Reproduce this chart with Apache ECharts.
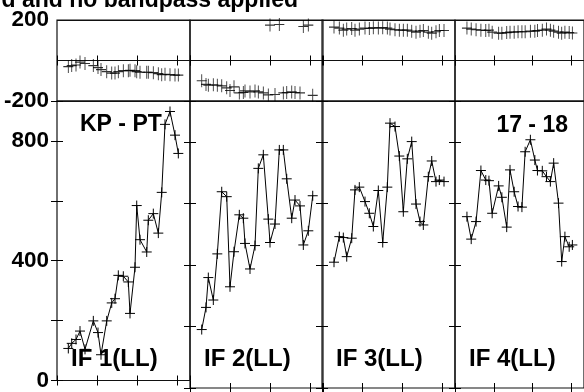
<!DOCTYPE html>
<html><head><meta charset="utf-8">
<script src="https://cdn.jsdelivr.net/npm/echarts@6/dist/echarts.min.js"></script>
<style>html,body{margin:0;padding:0;background:#fff;overflow:hidden}#c{width:584px;height:392px}</style>
</head><body><div id="c"></div>
<script>
// ---- text ----
const titleText = 'd and no bandpass applied';
const baselineLeft = 'KP - PT';
const baselineRight = '17 - 18';
const ifLabels = ['IF 1(LL)', 'IF 2(LL)', 'IF 3(LL)', 'IF 4(LL)'];

// ---- axis settings (values) ----
const phaseRange = [-200, 200];
const ampRange = [0, 933];
const timeRange = [0, 3.325];

// ---- IF 1 ----
const t1 = [0.283,0.368,0.475,0.575,0.700,0.908,1.025,1.100,1.243,1.368,1.450,1.533,1.658,1.783,1.825,1.950,1.993,2.075,2.243,2.283,2.408,2.533,2.618,2.700,2.825,2.950,3.033];
const amp1 = [107,124,137,165,104,199,160,86,199,259,273,351,348,329,224,378,584,470,429,535,557,492,628,855,898,819,758];
const ph1 = [-30,-25,-22,-8,-15,-25,-35,-45,-55,-62,-62,-55,-50,-50,-48,-50,-55,-58,-58,-58,-60,-65,-70,-68,-70,-72,-72];

// ---- IF 2 ----
const t2 = [0.293,0.400,0.458,0.583,0.683,0.793,0.918,1.000,1.100,1.233,1.333,1.375,1.500,1.625,1.708,1.833,1.958,2.000,2.125,2.233,2.333,2.418,2.543,2.625,2.750,2.833,2.958,3.068];
const amp2 = [190,262,359,286,436,638,622,329,443,563,552,470,387,463,714,758,549,473,533,774,774,680,552,611,592,465,511,625];
const ph2 = [-100,-118,-122,-120,-122,-125,-135,-148,-130,-160,-158,-150,-155,-150,-155,-160,-170,175,-168,178,-160,-158,-155,-158,-160,168,175,-172];

// ---- IF 3 ----
const t3 = [0.300,0.433,0.533,0.618,0.743,0.825,0.933,1.075,1.183,1.283,1.408,1.518,1.633,1.700,1.825,1.933,2.033,2.133,2.243,2.350,2.450,2.533,2.658,2.743,2.850,2.933,3.050];
const amp3 = [409,492,489,427,487,644,653,606,568,525,642,473,653,861,850,754,573,745,801,598,541,530,687,738,671,676,671];
const ph3 = [165,160,150,155,158,150,155,160,158,162,160,162,160,155,152,150,150,150,145,140,145,148,140,135,142,148,148];

// ---- IF 4 ----
const t4 = [0.308,0.418,0.543,0.668,0.793,0.875,0.958,1.125,1.208,1.333,1.418,1.525,1.625,1.725,1.808,1.943,2.058,2.125,2.250,2.358,2.458,2.543,2.668,2.750,2.833,2.943,3.025];
const amp4 = [557,484,541,707,676,674,568,657,620,523,709,638,590,588,768,807,741,707,706,687,671,731,601,411,492,459,465];
const ph4 = [160,155,152,150,148,150,140,135,135,138,140,140,142,142,142,145,145,148,150,155,150,145,140,135,140,138,136];

const T = [t1, t2, t3, t4];
const AMP = [amp1, amp2, amp3, amp4];
const PH = [ph1, ph2, ph3, ph4];

// ---- layout ----
const colLeft = [57, 190, 322, 455];
const colW = 133;
const phTop = 20, phH = 81, amTop = 101, amH = 287;
const FONT = 'Liberation Sans, Arial, Helvetica, sans-serif';
const plusPath = 'path://M5,0L5,10M0,5L10,5';

const grids = [], xAxes = [], yAxes = [], series = [];
const tickStyle = { lineStyle: { color: '#000', width: 1 } };

for (let r = 0; r < 2; r++) {
  for (let c = 0; c < 4; c++) {
    const g = r * 4 + c;
    grids.push({ left: colLeft[c], width: colW, top: r === 0 ? phTop : amTop, height: r === 0 ? phH : amH,
      show: true, borderColor: '#111', borderWidth: 1.2, backgroundColor: 'transparent', containLabel: false });
    ['bottom', 'top'].forEach(pos => xAxes.push({
      type: 'value', gridIndex: g, position: pos, min: timeRange[0], max: timeRange[1], interval: 1,
      axisLine: { show: false }, axisLabel: { show: false }, splitLine: { show: false },
      axisTick: Object.assign({ show: true, inside: true, length: 5 }, tickStyle)
    }));
    const isPh = r === 0;
    ['left', 'right'].forEach(pos => yAxes.push({
      type: 'value', gridIndex: g, position: pos,
      min: isPh ? phaseRange[0] : ampRange[0], max: isPh ? phaseRange[1] : ampRange[1], interval: 200,
      axisLine: { show: false },
      axisTick: Object.assign({ show: !isPh, inside: true, length: 6 }, tickStyle),
      splitLine: { show: isPh && pos === 'left', lineStyle: { color: '#111', width: 1 } },
      axisLabel: {
        show: c === 0 && pos === 'left', margin: 8, color: '#000', fontFamily: FONT, fontWeight: 'bold', fontSize: 22.5,
        showMaxLabel: true, showMinLabel: true,
        formatter: v => isPh ? (v === 0 ? '' : String(v)) : (v % 400 === 0 ? String(v) : '')
      }
    }));
    const d = T[c].map((t, i) => [t, isPh ? PH[c][i] : AMP[c][i]]);
    const sym = { color: 'rgba(0,0,0,0)', borderColor: '#000', borderWidth: 1 };
    if (isPh) {
      series.push({ type: 'scatter', xAxisIndex: 2 * g, yAxisIndex: 2 * g, data: d,
        symbol: plusPath, symbolSize: [10, 13], itemStyle: sym, silent: true, animation: false });
    } else {
      series.push({ type: 'line', xAxisIndex: 2 * g, yAxisIndex: 2 * g, data: d,
        symbol: plusPath, symbolSize: 10, showSymbol: true, showAllSymbol: true,
        lineStyle: { color: '#000', width: 1 }, itemStyle: sym, silent: true, animation: false });
    }
  }
}

const txt = (x, y, text, align, size) => ({ type: 'text', x, y, z: 100,
  style: { text, fill: '#000', font: `bold ${size}px ${FONT}`, textAlign: align, textVerticalAlign: 'middle' } });

const graphic = [
  txt(298, 1, titleText, 'right', 23),
  txt(80, 125, baselineLeft, 'left', 23),
  txt(568, 126, baselineRight, 'right', 23),
  ...ifLabels.map((s, i) => txt(colLeft[i] + 14, 359, s, 'left', 24))
];

const chart = echarts.init(document.getElementById('c'), null, { renderer: 'canvas' });
chart.setOption({ animation: false, backgroundColor: '#fff', grid: grids, xAxis: xAxes, yAxis: yAxes, series, graphic });
</script></body></html>
